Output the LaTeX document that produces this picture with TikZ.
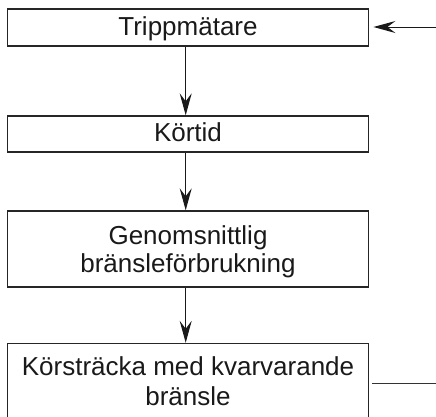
\documentclass[tikz,border=0pt]{standalone}
\usepackage{fontspec}
\setmainfont{Liberation Sans}
\usetikzlibrary{arrows.meta}
\begin{document}
\begin{tikzpicture}[x=1pt,y=-1pt,
  box/.style={draw=black!85, line width=1.4pt, inner sep=0pt, minimum width=361.5pt, text=black!90,
    font=\fontsize{26}{28.5}\selectfont},
  arr/.style={draw=black!90, line width=1pt, -{Stealth[length=22pt,width=12pt,inset=8pt]}},
  plain/.style={draw=black!80, line width=1.2pt}]
\useasboundingbox (0,0) rectangle (436,416);
\node[box, minimum height=37pt, text height=21pt, text depth=6pt] (b1) at (188,27.5) {Trippmätare};
\node[box, minimum height=36pt, text height=21pt, text depth=7pt] (b2) at (188,134) {Körtid};
\node[box, align=center, minimum height=76pt] (b3) at (188,249) {\rule{0pt}{24pt}Genomsnittlig\\bränsleförbrukning};
\node[box, align=center, minimum height=76pt, font=\fontsize{26}{30}\selectfont] (b4) at (188,381.5) {Körsträcka med kvarvarande\\bränsle};
\coordinate (in1) at (437,27);
\coordinate (out1) at (437,383.7);
\draw[arr] ([xshift=-2.3pt]b1.south) -- ([xshift=-2.3pt]b2.north);
\draw[arr] ([xshift=-2.3pt]b2.south) -- ([xshift=-2.3pt]b3.north);
\draw[arr] ([xshift=-2.3pt]b3.south) -- ([xshift=-2.3pt]b4.north);
\draw[arr] (in1) -- ([xshift=4pt]b1.east |- in1);
\draw[plain] ([xshift=3pt]b4.east |- out1) -- (out1);
\end{tikzpicture}
\end{document}
